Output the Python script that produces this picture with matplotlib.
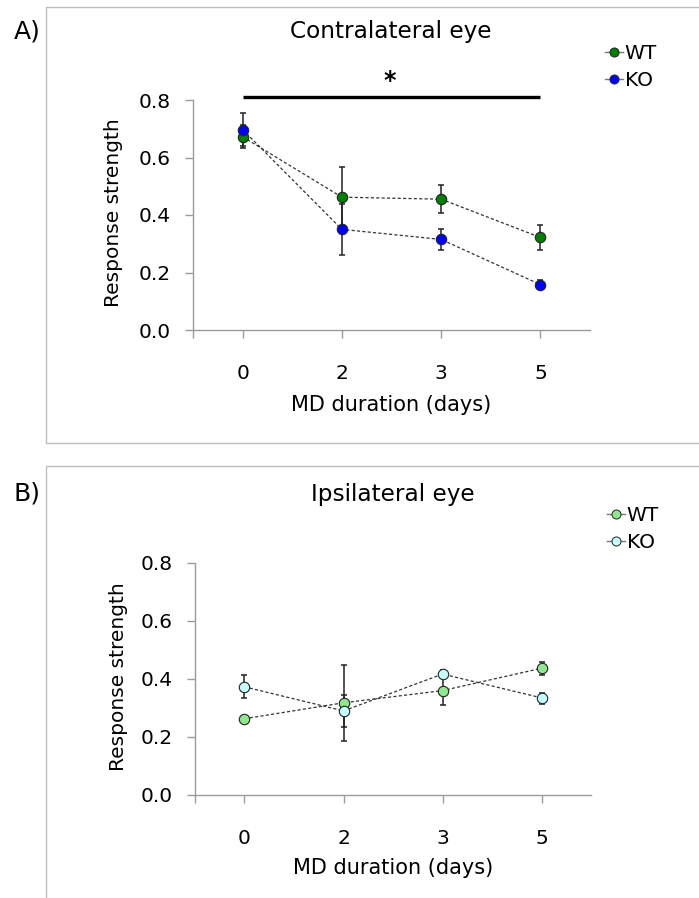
import matplotlib
matplotlib.use("Agg")
import matplotlib.pyplot as plt
from matplotlib.lines import Line2D
from matplotlib.patches import Rectangle

plt.rcParams["font.family"] = ["DejaVu Sans"]

W, H = 699, 898

days = ["0", "2", "3", "5"]

contra_wt = [0.672, 0.462, 0.455, 0.322]
contra_wt_err = [0.040, 0.105, 0.048, 0.042]
contra_ko = [0.697, 0.350, 0.315, 0.158]
contra_ko_err = [0.057, 0.090, 0.035, 0.016]

ipsi_wt = [0.263, 0.318, 0.360, 0.437]
ipsi_wt_lo = [0.010, 0.085, 0.050, 0.022]
ipsi_wt_hi = [0.010, 0.028, 0.050, 0.020]
ipsi_ko = [0.373, 0.290, 0.417, 0.335]
ipsi_ko_lo = [0.040, 0.105, 0.015, 0.020]
ipsi_ko_hi = [0.040, 0.160, 0.015, 0.018]

yticks = [0.0, 0.2, 0.4, 0.6, 0.8]
AXIS_GRAY = "#9a9a9a"


def fx(px):
    return px / W


def fy(py):
    return 1 - py / H


def draw_series(ax, y, lo, hi, color):
    x = list(range(len(y)))
    ax.errorbar(x, y, yerr=[lo, hi], fmt="none", ecolor="#222222",
                elinewidth=1.1, capsize=2.5, capthick=1.1, zorder=2)
    ax.plot(x, y, linestyle=(0, (2.5, 1.8)), color="#333333", linewidth=0.9,
            marker="o", markersize=7.5, markerfacecolor=color,
            markeredgecolor="#222222", markeredgewidth=0.8, zorder=3)


def style_axes(ax, xlabel_y, ylabel_x):
    ax.set_xlim(-0.5, 3.5)
    ax.set_ylim(0, 0.8)
    ax.set_xticks(range(len(days)))
    ax.set_xticklabels(days)
    ax.set_xticks([-0.5], minor=True)
    ax.set_yticks(yticks)
    ax.set_yticklabels([f"{v:.1f}" for v in yticks])
    for side in ["top", "right"]:
        ax.spines[side].set_visible(False)
    for side in ["left", "bottom"]:
        ax.spines[side].set_color(AXIS_GRAY)
        ax.spines[side].set_linewidth(1.0)
    ax.tick_params(axis="x", which="both", direction="out", length=5.5,
                   width=1.0, color=AXIS_GRAY, pad=19, labelsize=14.5)
    ax.tick_params(axis="y", direction="out", length=6, width=1.0,
                   color=AXIS_GRAY, pad=10, labelsize=14.5)
    ax.set_xlabel("MD duration (days)", fontsize=15)
    ax.xaxis.label.set_va("center")
    ax.xaxis.set_label_coords(0.5, xlabel_y)
    ax.set_ylabel("Response strength", fontsize=14.5)
    ax.yaxis.label.set_va("center")
    ax.yaxis.set_label_coords(ylabel_x, 0.51)
    ax.patch.set_alpha(0)


def add_legend(fig, wt_color, ko_color, x_px, top_px):
    handles = [
        Line2D([], [], color="#777777", linewidth=1.0, marker="o",
               markersize=6.5, markerfacecolor=wt_color,
               markeredgecolor="#222222", markeredgewidth=0.7),
        Line2D([], [], color="#777777", linewidth=1.0, marker="o",
               markersize=6.5, markerfacecolor=ko_color,
               markeredgecolor="#222222", markeredgewidth=0.7),
    ]
    fig.legend(handles, ["WT", "KO"], loc="upper left",
               bbox_to_anchor=(fx(x_px), fy(top_px)), frameon=False,
               fontsize=14.5, handlelength=0.9, handletextpad=0.08,
               labelspacing=0.4, borderpad=0, borderaxespad=0)


def main():
    fig = plt.figure(figsize=(W / 100, H / 100), dpi=100)

    # panel frames
    fig.patches.append(Rectangle((fx(46), fy(443)), 1.2, fy(7) - fy(443),
                                 transform=fig.transFigure, fill=False,
                                 edgecolor="#bdbdbd", linewidth=1.0))
    fig.patches.append(Rectangle((fx(46), -0.2), 1.2, fy(466) + 0.2,
                                 transform=fig.transFigure, fill=False,
                                 edgecolor="#bdbdbd", linewidth=1.0))

    # A) contralateral
    ax1 = fig.add_axes([fx(193), fy(330), fx(590) - fx(193), fy(100) - fy(330)])
    draw_series(ax1, contra_wt, contra_wt_err, contra_wt_err, "#007f00")
    draw_series(ax1, contra_ko, contra_ko_err, contra_ko_err, "#0000ff")
    style_axes(ax1, -0.326, -0.2)
    ax1.plot([0, 3], [0.81, 0.81], color="black", linewidth=2.4,
             solid_capstyle="butt", clip_on=False)
    ax1.text(1.48, 0.865, "*", ha="center", va="center", fontsize=17,
             fontweight="bold")

    # B) ipsilateral
    ax2 = fig.add_axes([fx(195), fy(795), fx(591) - fx(195), fy(563) - fy(795)])
    draw_series(ax2, ipsi_wt, ipsi_wt_lo, ipsi_wt_hi, "#8ee88e")
    draw_series(ax2, ipsi_ko, ipsi_ko_lo, ipsi_ko_hi, "#c4ffff")
    style_axes(ax2, -0.315, -0.192)

    fig.text(fx(391), fy(38), "Contralateral eye", ha="center",
             va="baseline", fontsize=16.7)
    fig.text(fx(393), fy(501), "Ipsilateral eye", ha="center",
             va="baseline", fontsize=16.7)
    fig.text(fx(14), fy(38), "A)", ha="left", va="baseline", fontsize=18)
    fig.text(fx(14), fy(500), "B)", ha="left", va="baseline", fontsize=18)

    add_legend(fig, "#007f00", "#0000ff", 605, 44)
    add_legend(fig, "#8ee88e", "#c4ffff", 607, 506)

    fig.savefig("out.png", dpi=100)
    plt.close(fig)


if __name__ == "__main__":
    main()
